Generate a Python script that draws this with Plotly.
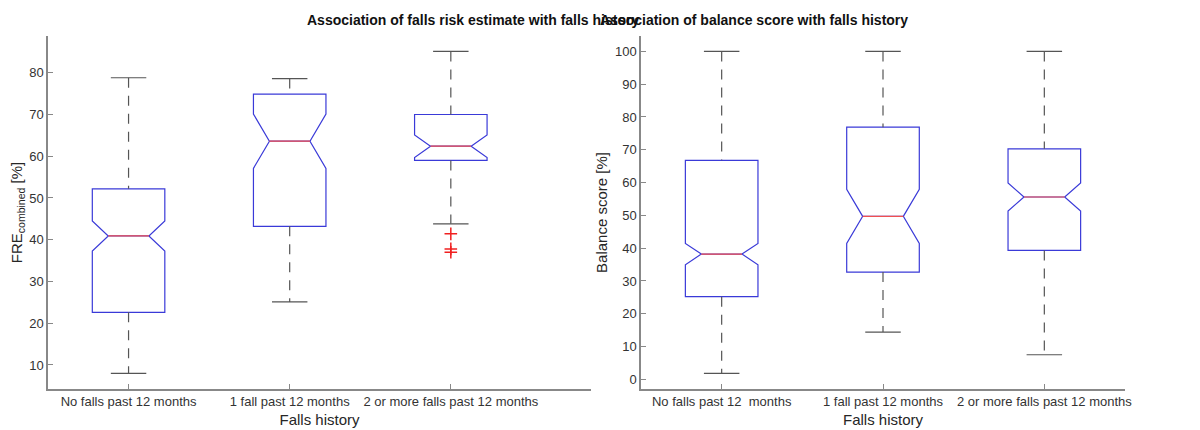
import plotly.graph_objects as go

categories = ["No falls past 12 months", "1 fall past 12 months", "2 or more falls past 12 months"]
categories_r = ["No falls past 12  months", "1 fall past 12 months", "2 or more falls past 12 months"]

fre_lo = [8.0, 25.1, 43.8]
fre_q1 = [22.6, 43.2, 59.0]
fre_notch_lo = [37.4, 57.0, 59.6]
fre_med = [40.9, 63.6, 62.4]
fre_notch_hi = [44.6, 70.0, 65.0]
fre_q3 = [52.2, 74.9, 70.0]
fre_hi = [78.8, 78.6, 85.1]
fre_outliers = [[], [], [41.4, 37.8, 37.0]]

bal_lo = [1.8, 14.4, 7.5]
bal_q1 = [25.2, 32.7, 39.3]
bal_notch_lo = [34.9, 41.4, 51.4]
bal_med = [38.2, 49.7, 55.6]
bal_notch_hi = [41.4, 57.9, 59.9]
bal_q3 = [66.8, 76.9, 70.3]
bal_hi = [100, 100, 100]

W = 1077
fig = go.Figure()
BOXW = 0.45
NW = 0.22
CAP = 0.11
MED = BOXW / 2 * (1 - 2 * NW)

def add_panel(xa, ya, lo, q1, nlo, med, nhi, q3, hi, outl):
    xs = list(range(len(lo)))
    for i in xs:
        fig.add_trace(go.Box(x=[i], q1=[q1[i]], median=[med[i]], q3=[q3[i]],
                             lowerfence=[q1[i]], upperfence=[q3[i]],
                             notched=True, notchspan=[(nhi[i] - nlo[i]) / 2],
                             notchwidth=NW, width=BOXW, fillcolor="rgba(0,0,0,0)",
                             line=dict(color="#3a3ad8", width=1.2), xaxis=xa, yaxis=ya,
                             boxpoints=False, showlegend=False, hoverinfo="skip"))
        for a, b in [(hi[i], q3[i]), (q1[i], lo[i])]:
            fig.add_trace(go.Scatter(x=[i, i], y=[a, b], mode="lines",
                                     line=dict(color="#555", width=1.2, dash="10px,8px"),
                                     xaxis=xa, yaxis=ya, showlegend=False, hoverinfo="skip"))
        for v in (hi[i], lo[i]):
            fig.add_trace(go.Scatter(x=[i - CAP, i + CAP], y=[v, v], mode="lines",
                                     line=dict(color="#555", width=1.2),
                                     xaxis=xa, yaxis=ya, showlegend=False, hoverinfo="skip"))
        fig.add_trace(go.Scatter(x=[i - MED, i + MED], y=[med[i], med[i]], mode="lines",
                                 line=dict(color="#f05050", width=1.2),
                                 xaxis=xa, yaxis=ya, showlegend=False, hoverinfo="skip"))
        if outl[i]:
            fig.add_trace(go.Scatter(x=[i] * len(outl[i]), y=outl[i], mode="markers",
                                     marker=dict(symbol="cross-thin", size=9,
                                                 line=dict(color="#f02020", width=1.5)),
                                     xaxis=xa, yaxis=ya, showlegend=False, hoverinfo="skip"))

add_panel("x", "y", fre_lo, fre_q1, fre_notch_lo, fre_med, fre_notch_hi, fre_q3, fre_hi, fre_outliers)
add_panel("x2", "y2", bal_lo, bal_q1, bal_notch_lo, bal_med, bal_notch_hi, bal_q3, bal_hi, [[], [], []])

font = dict(family="Liberation Sans, Arial, sans-serif", color="#262626")
axcommon = dict(showgrid=False, zeroline=False, showline=True, linecolor="#888", linewidth=1.5,
                ticks="inside", ticklen=5, tickcolor="#888", automargin=False,
                tickfont=dict(size=13, color="#333"))
fig.update_layout(
    width=1200, height=430, plot_bgcolor="white", paper_bgcolor="white", font=font,
    margin=dict(l=40, r=83, t=28, b=49),
    xaxis=dict(domain=[0, 543 / W], range=[-0.5, 2.87], tickvals=[0, 1, 2], ticktext=categories,
               title=dict(text="Falls history", font=dict(size=15), standoff=6), **axcommon),
    yaxis=dict(range=[4.24, 88.8], tickvals=[10, 20, 30, 40, 50, 60, 70, 80],
               title=dict(text="FRE<sub>combined</sub> [%]", font=dict(size=15), standoff=4), **axcommon),
    xaxis2=dict(domain=[593 / W, 1], range=[-0.5, 2.5], tickvals=[0, 1, 2], ticktext=categories_r,
                anchor="y2",
                title=dict(text="Falls history", font=dict(size=15), standoff=6), **axcommon),
    yaxis2=dict(range=[-2.95, 104.7], tickvals=list(range(0, 101, 10)), anchor="x2",
                title=dict(text="Balance score [%]", font=dict(size=15), standoff=4), **axcommon),
    annotations=[
        dict(text="<b>Association of falls risk estimate with falls history</b>", x=(297 - 40) / W, y=1.0,
             xref="paper", yref="paper", yanchor="bottom", yshift=6, showarrow=False,
             font=dict(size=14, color="#111")),
        dict(text="<b>Association of balance score with falls history</b>", x=(902 - 40) / W, y=1.0,
             xref="paper", yref="paper", yanchor="bottom", yshift=6, showarrow=False,
             font=dict(size=14, color="#111")),
    ],
)
fig.write_html("out.html")
